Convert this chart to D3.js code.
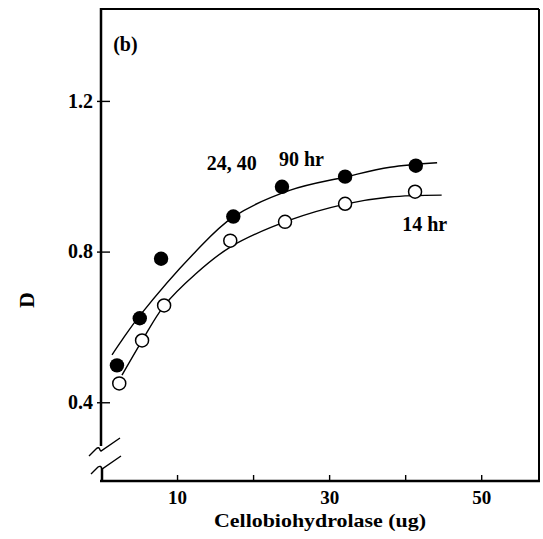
<!DOCTYPE html>
<html lang="en">
    <head>
        <meta charset="UTF-8">
        <script src="https://d3js.org/d3.v7.min.js"></script>
        <title>Cellobiohydrolase (b)</title>
        <style>
            body { margin: 0; background: #fff; }
            text { font-family: "Liberation Serif", "Times New Roman", serif; font-weight: bold; fill: #000; }
        </style>
    </head>
    <body>
        <div id="container"></div>
    </body>
    <script>
        // measured points, 24/40/90 hr (filled) and 14 hr (open)
        const filledX = [2.1, 5.1, 7.9, 17.4, 23.8, 32.1, 41.4];
        const filledY = [0.498, 0.623, 0.781, 0.893, 0.972, 0.999, 1.028];
        const openX = [2.4, 5.4, 8.3, 17.0, 24.2, 32.1, 41.3];
        const openY = [0.450, 0.564, 0.657, 0.829, 0.879, 0.927, 0.959];

        // fitted curves
        const upperCurveX = [1.45, 2.76, 5.1, 12.4, 17.4, 24.9, 32.1, 38.0, 44.2];
        const upperCurveY = [0.526, 0.565, 0.630, 0.799, 0.892, 0.963, 0.998, 1.024, 1.036];
        const lowerCurveX = [2.76, 5.39, 8.29, 12.4, 17.0, 24.9, 32.1, 38.0, 44.8];
        const lowerCurveY = [0.472, 0.563, 0.656, 0.740, 0.812, 0.884, 0.926, 0.945, 0.950];

        const xTicks = [10, 20, 30, 40, 50];
        const xTickLabels = [10, 30, 50];
        const yTicks = [0.4, 0.8, 1.2];

        const notes = [
            {text: '(b)', x: 1.6, y: 1.332},
            {text: '24, 40', x: 13.9, y: 1.017},
            {text: '90 hr', x: 23.4, y: 1.027},
            {text: '14 hr', x: 39.6, y: 0.855}
        ];

        const width = 543;
        const height = 539;
        const margin = {top: 9, right: 4, bottom: 58, left: 101};

        const x = d3.scaleLinear().domain([0, 57.6]).range([margin.left, width - margin.right]);
        const y = d3.scaleLinear().domain([0.191, 1.444]).range([height - margin.bottom, margin.top]);

        const svg = d3.select('#container')
            .append('svg')
            .attr('width', width)
            .attr('height', height);

        const xL = margin.left, xR = width - margin.right;
        const yT = margin.top, yB = height - margin.bottom;

        // frame, with the axis break on the left side
        const frame = svg.append('g').attr('stroke', '#000').attr('fill', 'none');
        frame.append('line').attr('x1', xL - 1).attr('x2', xR).attr('y1', yT).attr('y2', yT).attr('stroke-width', 2);
        frame.append('line').attr('x1', xR).attr('x2', xR).attr('y1', yT).attr('y2', yB).attr('stroke-width', 2);
        frame.append('line').attr('x1', xL - 1).attr('x2', xR + 1).attr('y1', yB).attr('y2', yB).attr('stroke-width', 2.5);
        frame.append('line').attr('x1', xL).attr('x2', xL).attr('y1', yT - 1).attr('y2', 446).attr('stroke-width', 2.5);
        frame.append('line').attr('x1', xL + 1).attr('x2', xL + 1).attr('y1', 468).attr('y2', yB).attr('stroke-width', 2.5);
        frame.append('path').attr('d', 'M89,456 L96,449 Q99,446 100,450 L101,451 L120,438').attr('stroke-width', 1.4);
        frame.append('path').attr('d', 'M91,474 L98,467 Q101,465 102,469 L121,456').attr('stroke-width', 1.4);

        // x axis
        const xAxis = svg.append('g')
            .attr('transform', `translate(0,${yB})`)
            .call(d3.axisBottom(x).tickValues(xTicks).tickSize(-6).tickPadding(10)
                .tickFormat(d => xTickLabels.includes(d) ? d : ''));
        xAxis.select('.domain').remove();
        xAxis.selectAll('line').attr('stroke', '#000').attr('stroke-width', 1.4);
        xAxis.selectAll('text').style('font-size', '19px').attr('font-family', null);

        // y axis
        const yAxis = svg.append('g')
            .attr('transform', `translate(${xL},0)`)
            .call(d3.axisLeft(y).tickValues(yTicks).tickSize(-9).tickPadding(9)
                .tickFormat(d3.format('.1f')));
        yAxis.select('.domain').remove();
        yAxis.selectAll('line').attr('x1', -4).attr('stroke', '#000').attr('stroke-width', 1.4);
        yAxis.selectAll('text').style('font-size', '20px').attr('font-family', null).attr('x', -8);

        // fitted curves
        const line = d3.line()
            .x(d => x(d[0]))
            .y(d => y(d[1]))
            .curve(d3.curveCatmullRom.alpha(0.5));

        svg.append('path')
            .datum(d3.zip(upperCurveX, upperCurveY))
            .attr('d', line)
            .attr('fill', 'none')
            .attr('stroke', '#000')
            .attr('stroke-width', 1.4);

        svg.append('path')
            .datum(d3.zip(lowerCurveX, lowerCurveY))
            .attr('d', line)
            .attr('fill', 'none')
            .attr('stroke', '#000')
            .attr('stroke-width', 1.4);

        // points
        svg.append('g')
            .selectAll('circle')
            .data(d3.zip(openX, openY))
            .enter()
            .append('circle')
            .attr('cx', d => x(d[0]))
            .attr('cy', d => y(d[1]))
            .attr('r', 6.5)
            .attr('fill', '#fff')
            .attr('stroke', '#000')
            .attr('stroke-width', 1.5);

        svg.append('g')
            .selectAll('circle')
            .data(d3.zip(filledX, filledY))
            .enter()
            .append('circle')
            .attr('cx', d => x(d[0]))
            .attr('cy', d => y(d[1]))
            .attr('r', 7.2)
            .attr('fill', '#000');

        // annotations
        svg.append('g')
            .selectAll('text')
            .data(notes)
            .enter()
            .append('text')
            .attr('x', d => x(d.x))
            .attr('y', d => y(d.y))
            .style('font-size', '20px')
            .text(d => d.text);

        // axis titles
        svg.append('text')
            .attr('x', 320)
            .attr('y', 527)
            .attr('text-anchor', 'middle')
            .attr('textLength', 212)
            .attr('lengthAdjust', 'spacingAndGlyphs')
            .style('font-size', '19px')
            .text('Cellobiohydrolase (ug)');

        svg.append('text')
            .attr('transform', 'translate(34,300) rotate(-90)')
            .attr('text-anchor', 'middle')
            .style('font-size', '22px')
            .text('D');
    </script>
</html>
